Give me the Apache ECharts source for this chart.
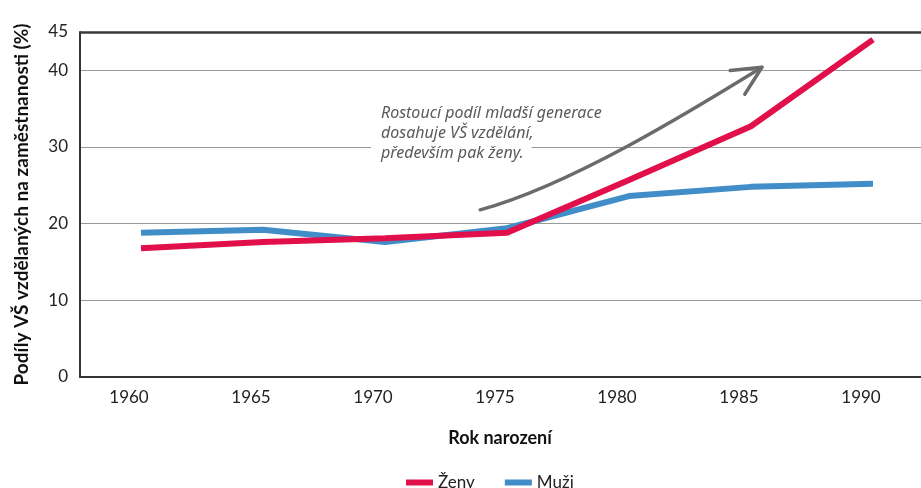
<!DOCTYPE html>
<html><head><meta charset="utf-8">
<script src="https://cdn.jsdelivr.net/npm/echarts@6/dist/echarts.min.js"></script>
<style>html,body{margin:0;padding:0;background:#fff;overflow:hidden}#c{width:921px;height:488px}</style>
</head><body><div id="c"></div>
<script>
// ---- data ----
const years = ['1960', '1965', '1970', '1975', '1980', '1985', '1990'];
const zeny = [16.8, 17.6, 18.1, 18.8, 25.7, 32.7, 44.0];
const muzi = [18.8, 19.2, 17.6, 19.4, 23.6, 24.8, 25.2];
const yTickMax = 45;
const yTickStep = 10;
const noteLines = ['Rostoucí podíl mladší generace', 'dosahuje VŠ vzdělání,', 'především pak ženy.'];
// annotation anchor and arrow curve in data space: [category index, value]
const noteAnchor = [1.967, 34.4];
const arrowStart = [2.78, 21.8], arrowCp1 = [3.52, 25.0], arrowCp2 = [4.52, 34.8], arrowEnd = [5.09, 40.4];

const FONT = 'Lato, "Noto Sans", sans-serif';
const X_MIN = -0.5, X_MAX = 6.5;
const chart = echarts.init(document.getElementById('c'), null, {renderer: 'canvas'});

function renderNote(params, api) {
  const s = api.coord(arrowStart), c1 = api.coord(arrowCp1), c2 = api.coord(arrowCp2), e = api.coord(arrowEnd);
  const ang = Math.atan2(e[1] - c2[1], e[0] - c2[0]);
  const L = 32, a = 0.45;
  const arm1 = [e[0] - L * Math.cos(ang - a), e[1] - L * Math.sin(ang - a)];
  const arm2 = [e[0] - L * Math.cos(ang + a), e[1] - L * Math.sin(ang + a)];
  const anchor = api.coord(noteAnchor);
  const children = [
    {type: 'bezierCurve', shape: {x1: s[0], y1: s[1], cpx1: c1[0], cpy1: c1[1], cpx2: c2[0], cpy2: c2[1], x2: e[0], y2: e[1]},
     style: {stroke: '#6b6b6b', lineWidth: 3.4, fill: null, lineCap: 'round'}},
    {type: 'polyline', shape: {points: [arm1, e, arm2]},
     style: {stroke: '#6b6b6b', lineWidth: 3.4, fill: null, lineCap: 'round', lineJoin: 'round'}}
  ];
  noteLines.forEach((t, i) => {
    children.push({
      type: 'text', x: anchor[0] - 10, y: anchor[1] + i * 20,
      style: {text: t, font: 'italic 16px "Noto Sans", sans-serif', fill: '#5a5a5a',
              verticalAlign: 'middle', align: 'left', backgroundColor: '#fff', padding: [1, 8, 1, 10]}
    });
  });
  return {type: 'group', children};
}

chart.setOption({
  animation: false,
  backgroundColor: '#fff',
  grid: {left: 80, width: 854, top: 32, bottom: 111, show: false, outerBoundsMode: 'none', containLabel: false},
  legend: {
    data: ['Ženy', 'Muži'], left: 401, top: 469, icon: 'rect', itemWidth: 27, itemHeight: 6, itemGap: 30,
    textStyle: {fontFamily: FONT, fontSize: 17, color: '#222'}
  },
  xAxis: {
    type: 'value', min: X_MIN, max: X_MAX,
    name: 'Rok narození', nameLocation: 'middle', nameGap: 52,
    nameTextStyle: {fontFamily: FONT, fontSize: 18, fontWeight: 'bold', color: '#111', padding: [0, 14, 0, 0]},
    axisLine: {show: true, onZero: false, lineStyle: {color: '#333', width: 2}},
    axisTick: {show: false},
    splitLine: {show: false},
    axisLabel: {
      customValues: years.map((_, i) => i),
      formatter: v => years[Math.round(v)],
      fontFamily: FONT, fontSize: 17, color: '#222', margin: 12, padding: [0, 24, 0, 0]
    }
  },
  yAxis: {
    type: 'value', min: 0, max: yTickMax, interval: yTickStep,
    name: 'Podíly VŠ vzdělaných na zaměstnanosti (%)', nameLocation: 'middle', nameGap: 49,
    nameTextStyle: {fontFamily: FONT, fontSize: 19, fontWeight: 'bold', color: '#111'},
    axisLine: {show: true, onZero: false, lineStyle: {color: '#333', width: 2}},
    axisTick: {show: false},
    axisLabel: {fontFamily: FONT, fontSize: 17, color: '#222', margin: 12},
    splitLine: {show: true, lineStyle: {color: '#999', width: 1}}
  },
  series: [
    {name: 'Ženy', type: 'line', data: zeny.map((v, i) => [i, v]), symbol: 'none', z: 4,
     lineStyle: {color: '#e2104a', width: 6}, itemStyle: {color: '#e2104a'},
     markLine: {silent: true, symbol: 'none', label: {show: false},
                lineStyle: {color: '#3a3a3a', width: 2.5, type: 'solid'},
                data: [{yAxis: yTickMax}]}},
    {name: 'Muži', type: 'line', data: muzi.map((v, i) => [i, v]), symbol: 'none', z: 3,
     lineStyle: {color: '#408dc8', width: 6}, itemStyle: {color: '#408dc8'}},
    {name: 'note', type: 'custom', data: [[0, 0]], renderItem: renderNote, z: 5, silent: true, clip: false}
  ]
});
</script>
</body></html>
